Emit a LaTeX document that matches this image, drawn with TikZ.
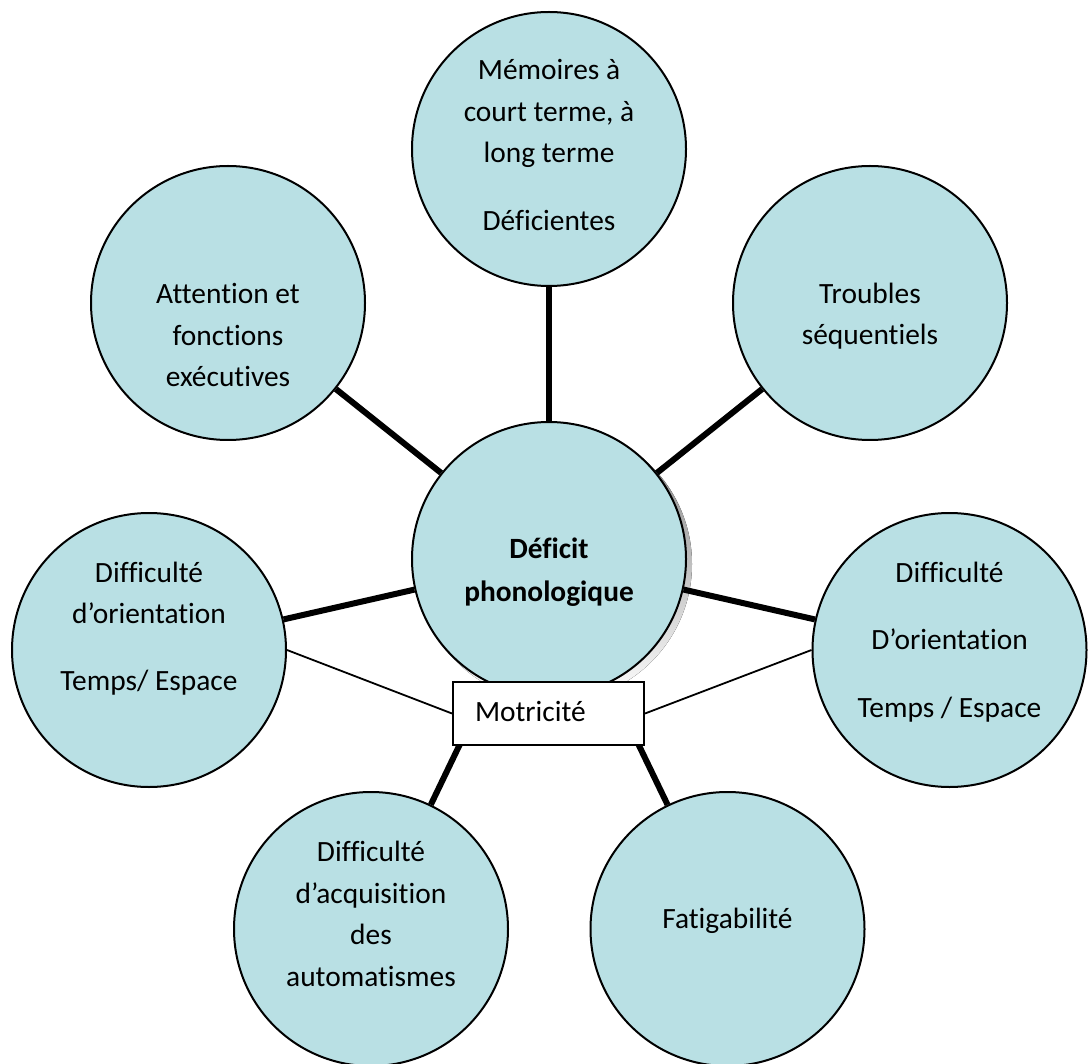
\documentclass[tikz,border=0pt]{standalone}
\usepackage{fontspec}
\setmainfont{Carlito}[Ligatures={NoCommon}]
\definecolor{cfill}{RGB}{185,224,228}
\definecolor{shade}{RGB}{118,118,118}
\newcommand\mlines[1]{\begin{tabular}[t]{@{}c@{}}#1\end{tabular}}
\tikzset{
  bub/.style={circle, draw=black, line width=2pt, fill=cfill, minimum size=274pt, inner sep=0pt},
  lbl/.style={anchor=base, inner sep=0pt, font=\fontsize{29.4}{41.5}\selectfont},
  thickc/.style={line width=6pt},
  thinc/.style={line width=1.8pt},
  mbox/.style={draw=black, fill=white, line width=2pt, minimum width=191pt, minimum height=63pt,
    inner sep=0pt, inner xsep=22pt, text width=147pt, align=left, text height=20pt, text depth=5pt,
    font=\fontsize{29.4}{41.5}\selectfont}
}
\begin{document}
\begin{tikzpicture}[x=1pt,y=-1pt]
\useasboundingbox (0,0) rectangle (1090,1064);
% outer circles
\node[bub] (top) at (549,149) {};
\node[bub] (tl) at (228,303) {};
\node[bub] (tr) at (870,303) {};
\node[bub] (lf) at (149,650) {};
\node[bub] (rt) at (949.5,650) {};
\node[bub] (bl) at (371,929) {};
\node[bub] (br) at (727.5,929) {};
% central circle with shadow
\fill[shade] (554,564) circle[radius=138pt];
\node[bub] (ctr) at (549,559) {};
% connectors from the centre
\draw[thickc] (ctr) -- (top);
\draw[thickc] (ctr) -- (tl);
\draw[thickc] (ctr) -- (tr);
\draw[thickc] (ctr) -- (lf);
\draw[thickc] (ctr) -- (rt);
\draw[thickc] (ctr) -- (bl);
\draw[thickc] (ctr) -- (br);
% Motricite box
\node[mbox] (mot) at (548.5,713.5) {Motricité};
\draw[thinc] (lf.east) -- (mot.west);
\draw[thinc] (mot.east) -- (rt.west);
% texts
\node[lbl] (ttop) at (549,80) {\mlines{Mémoires à\\court terme, à\\long terme\\[26pt]Déficientes}};
\node[lbl] (ttl) at (228,304) {\mlines{Attention et\\fonctions\\exécutives}};
\node[lbl] (ttr) at (870,303.5) {\mlines{Troubles\\séquentiels}};
\node[lbl] (tlf) at (149,582) {\mlines{Difficulté\\d’orientation\\[25.5pt]Temps/ Espace}};
\node[lbl] (trt) at (949.5,582) {\mlines{Difficulté\\[26pt]D’orientation\\[26pt]Temps / Espace}};
\node[lbl] (tbl) at (371,861.5) {\mlines{Difficulté\\d’acquisition\\des\\automatismes}};
\node[lbl] (tbr) at (727.5,928.5) {Fatigabilité};
\node[lbl, font=\fontsize{29.4}{42.5}\selectfont\bfseries] (tctr) at (549,558.5) {\mlines{Déficit\\phonologique}};
\end{tikzpicture}
\end{document}
